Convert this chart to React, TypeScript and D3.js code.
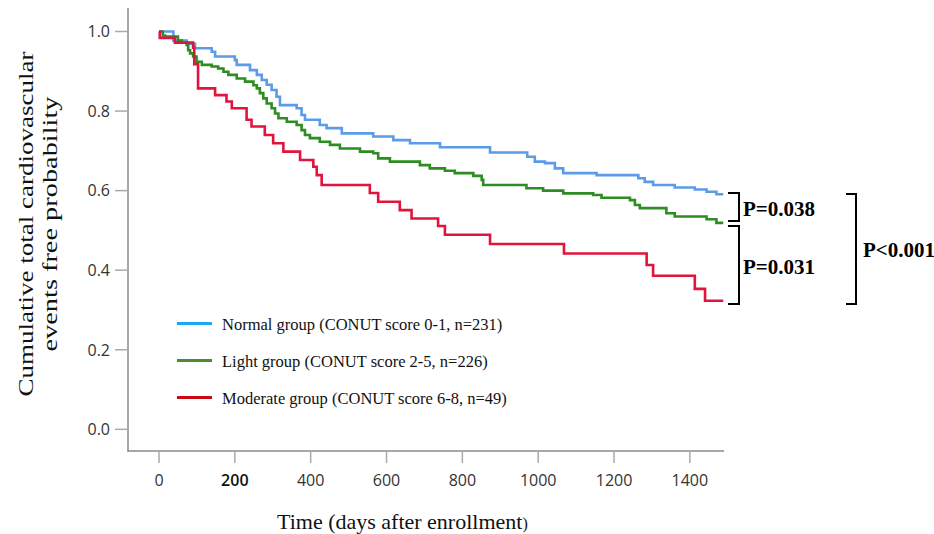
import React, { useEffect, useRef } from 'react';
import * as d3 from 'd3';

// Kaplan-Meier step points (days, survival)
const normalDays = [0, 38, 73, 95, 139, 148, 200, 205, 240, 258, 271, 284, 297, 310, 319, 363, 376, 385, 424, 442, 482, 565, 618, 662, 741, 873, 971, 991, 1018, 1044, 1066, 1154, 1264, 1281, 1303, 1360, 1413, 1444, 1470, 1488];
const normalSurv = [1.0, 0.977, 0.969, 0.958, 0.949, 0.937, 0.928, 0.916, 0.903, 0.891, 0.878, 0.866, 0.853, 0.836, 0.815, 0.807, 0.79, 0.778, 0.765, 0.757, 0.744, 0.736, 0.727, 0.719, 0.709, 0.696, 0.685, 0.673, 0.669, 0.656, 0.644, 0.639, 0.631, 0.622, 0.614, 0.608, 0.603, 0.597, 0.591, 0.591];

const lightDays = [0, 10, 16, 50, 60, 73, 77, 82, 90, 99, 113, 139, 156, 170, 183, 205, 227, 249, 258, 266, 275, 284, 297, 306, 315, 337, 363, 376, 385, 398, 424, 451, 477, 530, 565, 578, 609, 688, 714, 754, 780, 829, 851, 855, 969, 1013, 1066, 1145, 1167, 1242, 1255, 1268, 1338, 1360, 1444, 1470, 1488];
const lightSurv = [1.0, 0.99, 0.987, 0.977, 0.972, 0.966, 0.953, 0.945, 0.937, 0.924, 0.916, 0.912, 0.907, 0.899, 0.891, 0.882, 0.874, 0.865, 0.857, 0.845, 0.832, 0.819, 0.807, 0.794, 0.782, 0.773, 0.765, 0.752, 0.74, 0.732, 0.723, 0.715, 0.706, 0.698, 0.694, 0.681, 0.673, 0.664, 0.656, 0.65, 0.644, 0.637, 0.627, 0.614, 0.606, 0.6, 0.593, 0.589, 0.582, 0.576, 0.564, 0.556, 0.543, 0.535, 0.528, 0.519, 0.519];

const moderateDays = [0, 2, 42, 90, 93, 103, 148, 178, 192, 231, 244, 279, 301, 328, 372, 407, 416, 429, 556, 578, 635, 666, 736, 754, 873, 1068, 1286, 1303, 1413, 1440, 1488];
const moderateSurv = [1.0, 0.984, 0.972, 0.959, 0.918, 0.857, 0.84, 0.824, 0.807, 0.778, 0.761, 0.74, 0.719, 0.698, 0.677, 0.66, 0.639, 0.614, 0.594, 0.572, 0.551, 0.53, 0.511, 0.489, 0.466, 0.442, 0.413, 0.386, 0.353, 0.323, 0.323];

const groupNames = ['Normal', 'Light', 'Moderate'];
const legendLabels = [
  'Normal group (CONUT score 0-1, n=231)',
  'Light group (CONUT score 2-5, n=226)',
  'Moderate group (CONUT score 6-8, n=49)'
];
const curveColors = ['#5b9be8', '#2d8c22', '#e0143c'];
const legendColors = ['#1aa8f0', '#4f8a32', '#c80a14'];

const xTicks = [0, 200, 400, 600, 800, 1000, 1200, 1400];
const yTicks = [0, 0.2, 0.4, 0.6, 0.8, 1.0];

function toPoints(days: number[], surv: number[]) {
  return days.map((d, i) => ({ t: d, s: surv[i] }));
}

export default function App() {
  const ref = useRef<SVGSVGElement>(null);

  useEffect(() => {
    const svg = d3.select(ref.current);
    svg.selectAll('*').remove();

    const x = d3.scaleLinear().domain([0, 1490]).range([159, 724]);
    const y = d3.scaleLinear().domain([0, 1]).range([429.3, 31.5]);

    // axes frame
    svg.append('line').attr('x1', 128).attr('x2', 128).attr('y1', 8).attr('y2', 451.5)
      .attr('stroke', '#8a8a8a').attr('stroke-width', 1.5);
    svg.append('line').attr('x1', 127.5).attr('x2', 724).attr('y1', 451).attr('y2', 451)
      .attr('stroke', '#8a8a8a').attr('stroke-width', 1.5);

    const yg = svg.append('g');
    yTicks.forEach(v => {
      yg.append('line').attr('x1', 115).attr('x2', 128).attr('y1', y(v)).attr('y2', y(v))
        .attr('stroke', '#aaa').attr('stroke-width', 1.5);
      yg.append('text').attr('x', 110).attr('y', y(v)).attr('dy', '0.36em')
        .attr('text-anchor', 'end').attr('font-family', 'Open Sans')
        .attr('font-size', 16).attr('fill', '#333').text(d3.format('.1f')(v));
    });

    const xg = svg.append('g');
    xTicks.forEach(v => {
      xg.append('line').attr('x1', x(v)).attr('x2', x(v)).attr('y1', 451).attr('y2', 463)
        .attr('stroke', '#aaa').attr('stroke-width', 1.5);
      xg.append('text').attr('x', x(v)).attr('y', 486).attr('text-anchor', 'middle')
        .attr('font-family', 'Open Sans').attr('font-size', 16)
        .attr('font-weight', v === 200 ? 600 : 400)
        .attr('fill', v === 200 ? '#111' : '#333').text(v);
    });

    // KM curves
    const line = d3.line<{ t: number; s: number }>()
      .x(d => x(d.t))
      .y(d => y(d.s))
      .curve(d3.curveStepAfter);

    const series = [
      toPoints(normalDays, normalSurv),
      toPoints(lightDays, lightSurv),
      toPoints(moderateDays, moderateSurv)
    ];
    series.forEach((pts, i) => {
      svg.append('path').attr('class', 'km-' + groupNames[i])
        .attr('d', line(pts)).attr('fill', 'none')
        .attr('stroke', curveColors[i]).attr('stroke-width', 2.6)
        .attr('stroke-linejoin', 'miter');
    });

    // legend
    legendLabels.forEach((lab, i) => {
      const ly = 323.5 + i * 37;
      svg.append('line').attr('x1', 177).attr('x2', 212).attr('y1', ly).attr('y2', ly)
        .attr('stroke', legendColors[i]).attr('stroke-width', 3);
      svg.append('text').attr('x', 222).attr('y', ly + 6.5)
        .attr('font-family', 'Liberation Serif').attr('font-size', 16.5)
        .attr('fill', '#111').text(lab);
    });

    // axis titles
    const xt = svg.append('text').attr('x', 277).attr('y', 529)
      .attr('font-family', 'Liberation Serif').attr('font-size', 22).attr('fill', '#111');
    xt.append('tspan').text('Time (days after enrollment');
    xt.append('tspan').attr('font-size', 16).text(')');

    const yt = svg.append('g').attr('transform', 'translate(0,224) rotate(-90)');
    yt.append('text').attr('x', 0).attr('y', 33).attr('text-anchor', 'middle')
      .attr('font-family', 'Liberation Serif').attr('font-size', 22).attr('fill', '#111')
      .attr('textLength', 345).attr('lengthAdjust', 'spacingAndGlyphs')
      .text('Cumulative total cardiovascular');
    yt.append('text').attr('x', 0).attr('y', 57).attr('text-anchor', 'middle')
      .attr('font-family', 'Liberation Serif').attr('font-size', 22).attr('fill', '#111')
      .attr('textLength', 255).attr('lengthAdjust', 'spacingAndGlyphs')
      .text('events free probability');

    // p-value brackets
    const bracket = (x0: number, x1: number, y0: number, y1: number) => {
      svg.append('path')
        .attr('d', `M${x0},${y0}H${x1}V${y1}H${x0}`)
        .attr('fill', 'none').attr('stroke', '#000').attr('stroke-width', 2);
    };
    bracket(728, 739, 193, 221);
    bracket(728, 739, 226, 304);
    bracket(846, 856, 194, 304);

    const pText = (px: number, py: number, s: string) => {
      svg.append('text').attr('x', px).attr('y', py)
        .attr('font-family', 'Liberation Serif').attr('font-weight', 'bold')
        .attr('font-size', 21).attr('fill', '#000').text(s);
    };
    pText(743, 216, 'P=0.038');
    pText(743, 274, 'P=0.031');
    pText(863, 257, 'P<0.001');
  }, []);

  return (
    <svg ref={ref} width={934} height={534}
      style={{ position: 'absolute', left: 0, top: 0, background: '#fff' }} />
  );
}
